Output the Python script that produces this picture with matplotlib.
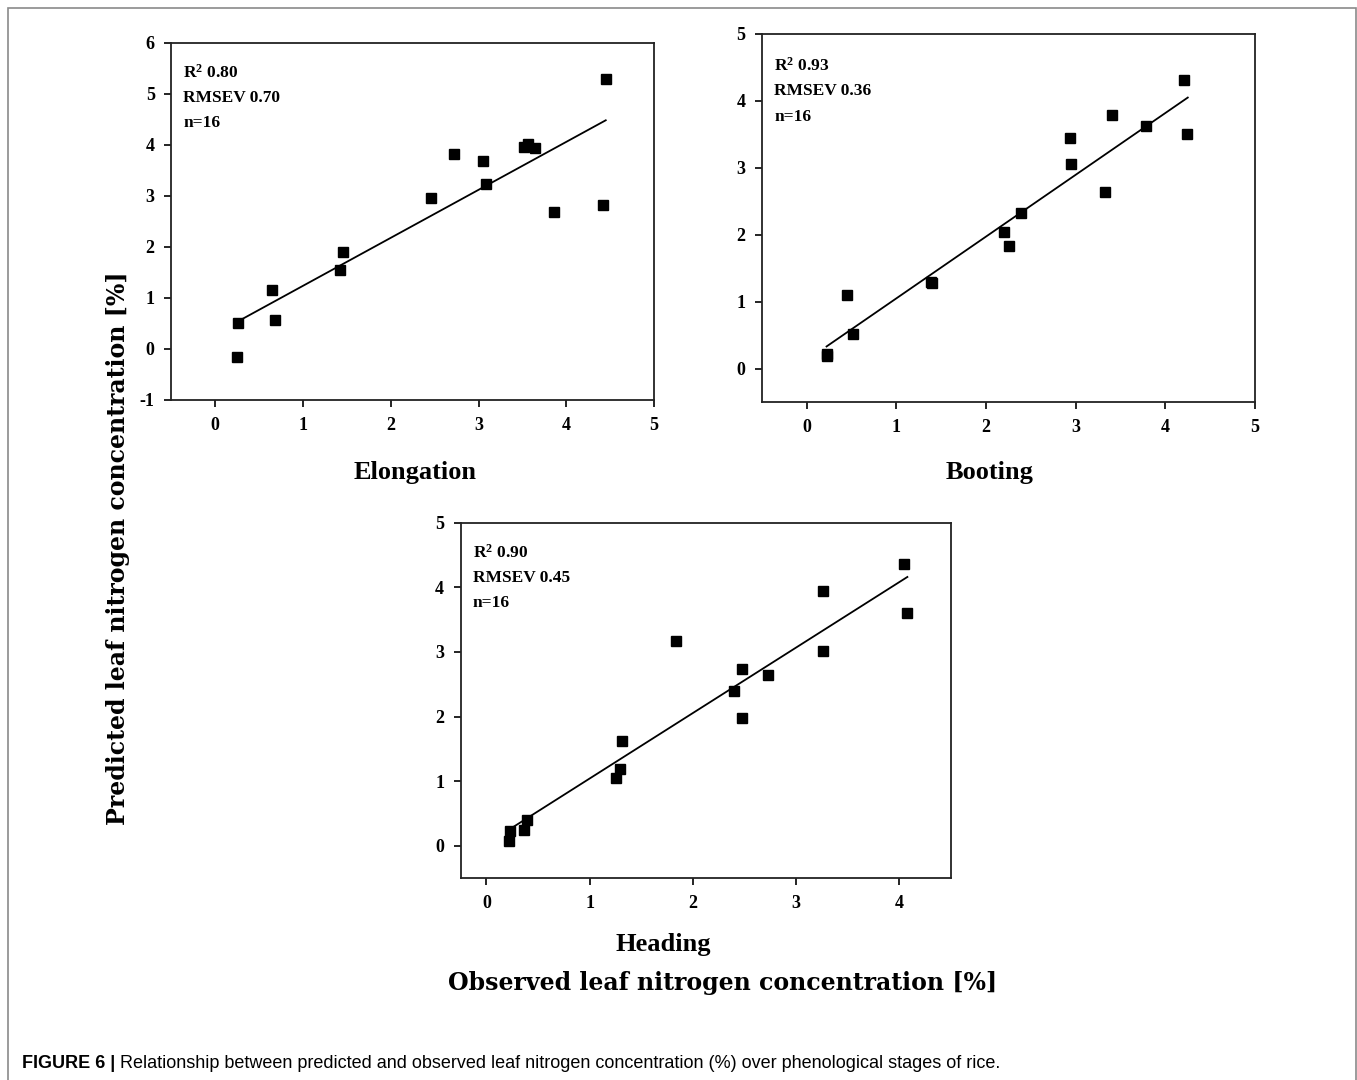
import matplotlib
matplotlib.use('Agg')
import matplotlib.pyplot as plt
from matplotlib.patches import Rectangle

plt.rcParams['font.family'] = 'Liberation Serif'
plt.rcParams['axes.unicode_minus'] = False
plt.rcParams['mathtext.fontset'] = 'custom'
plt.rcParams['mathtext.rm'] = 'Liberation Serif'
plt.rcParams['mathtext.bf'] = 'Liberation Serif:bold'

# --- data ---
elong_obs = [4.45, 2.72, 3.05, 3.09, 3.52, 3.56, 3.64, 2.46, 3.86, 4.42, 1.46, 1.42, 0.65, 0.68, 0.26, 0.25]
elong_pred = [5.29, 3.82, 3.68, 3.24, 3.95, 4.02, 3.94, 2.96, 2.69, 2.82, 1.89, 1.54, 1.16, 0.57, 0.51, -0.15]
elong_fit_x = [0.29, 4.45]
elong_fit_y = [0.57, 4.48]

boot_obs = [4.21, 3.40, 3.78, 4.24, 2.94, 2.95, 3.33, 2.39, 2.20, 2.26, 1.38, 1.40, 0.45, 0.52, 0.22, 0.23]
boot_pred = [4.31, 3.79, 3.63, 3.50, 3.44, 3.05, 2.64, 2.33, 2.04, 1.83, 1.30, 1.28, 1.10, 0.52, 0.21, 0.19]
boot_fit_x = [0.22, 4.25]
boot_fit_y = [0.33, 4.05]

head_obs = [4.05, 3.26, 4.08, 1.84, 3.26, 2.48, 2.73, 2.40, 2.48, 1.31, 1.29, 1.26, 0.39, 0.23, 0.36, 0.22]
head_pred = [4.36, 3.94, 3.60, 3.17, 3.01, 2.74, 2.64, 2.40, 1.97, 1.62, 1.19, 1.05, 0.40, 0.23, 0.24, 0.08]
head_fit_x = [0.23, 4.08]
head_fit_y = [0.26, 4.16]

stats_elong = ['0.80', '0.70', '16']
stats_boot = ['0.93', '0.36', '16']
stats_head = ['0.90', '0.45', '16']

W, H = 1357, 1080
fig = plt.figure(figsize=(W / 100, H / 100), dpi=100)

# frame around the figure (open at the bottom)
fig.patches.append(Rectangle((8 / W, -0.05), (1348 / W), 1 - 8 / H + 0.05, transform=fig.transFigure,
                             fill=False, edgecolor='#8a8a8a', linewidth=1.2))


def panel(rect, obs, pred, fit_x, fit_y, stats, xlim, ylim, yticks, xticks):
    ax = fig.add_axes(rect)
    ax.plot(fit_x, fit_y, color='black', linewidth=1.3)
    ax.plot(obs, pred, linestyle='none', marker='s', markersize=7, color='black')
    ax.set_xlim(xlim)
    ax.set_ylim(ylim)
    ax.set_xticks(xticks)
    ax.set_yticks(yticks)
    ax.tick_params(top=False, right=False, direction='out', length=5, width=1.2,
                   labelsize=13, pad=7)
    for lab in ax.get_xticklabels() + ax.get_yticklabels():
        lab.set_fontweight('bold')
    for s in ax.spines.values():
        s.set_linewidth(1.3)
        s.set_color('#222222')
    ax.text(0.025, 0.915, r'$\mathbf{R^{2}}$ ' + stats[0], transform=ax.transAxes,
            fontsize=12.5, fontweight='bold', va='center')
    ax.text(0.025, 0.845, 'RMSEV ' + stats[1], transform=ax.transAxes,
            fontsize=12.5, fontweight='bold', va='center')
    ax.text(0.025, 0.775, 'n=' + stats[2], transform=ax.transAxes,
            fontsize=12.5, fontweight='bold', va='center')
    return ax


panel([171.4 / W, 1 - 400 / H, 482.6 / W, 357.3 / H], elong_obs, elong_pred, elong_fit_x, elong_fit_y,
      stats_elong, (-0.5, 5), (-1, 6), range(-1, 7), range(0, 6))
panel([762 / W, 1 - 402 / H, 493 / W, 368 / H], boot_obs, boot_pred, boot_fit_x, boot_fit_y,
      stats_boot, (-0.5, 5), (-0.5, 5), range(0, 6), range(0, 6))
panel([460.7 / W, 1 - 878 / H, 490 / W, 355.3 / H], head_obs, head_pred, head_fit_x, head_fit_y,
      stats_head, (-0.25, 4.5), (-0.5, 5), range(0, 6), range(0, 5))

# stage names
fig.text(415 / W, 1 - 472 / H, 'Elongation', ha='center', va='center', fontsize=19, fontweight='bold')
fig.text(990 / W, 1 - 472 / H, 'Booting', ha='center', va='center', fontsize=19, fontweight='bold')
fig.text(663 / W, 1 - 945 / H, 'Heading', ha='center', va='center', fontsize=19, fontweight='bold')

# shared axis titles
fig.text(723 / W, 1 - 983 / H, 'Observed leaf nitrogen concentration [%]', ha='center', va='center',
         fontsize=17, fontweight='bold', family='DejaVu Serif')
fig.text(118 / W, 1 - 548 / H, 'Predicted leaf nitrogen concentration [%]', ha='center', va='center',
         rotation=90, fontsize=17, fontweight='bold', family='DejaVu Serif')

# caption
cap1 = fig.text(22 / W, 1 - 1063 / H, 'FIGURE 6 | ', ha='left', va='center', fontsize=13,
                fontweight='bold', family='Liberation Sans')
fig.canvas.draw()
bb = cap1.get_window_extent()
fig.text(bb.x1 / W, 1 - 1063 / H,
         'Relationship between predicted and observed leaf nitrogen concentration (%) over phenological stages of rice.',
         ha='left', va='center', fontsize=13, family='Liberation Sans')

fig.savefig('out.png', dpi=100, facecolor='white')
